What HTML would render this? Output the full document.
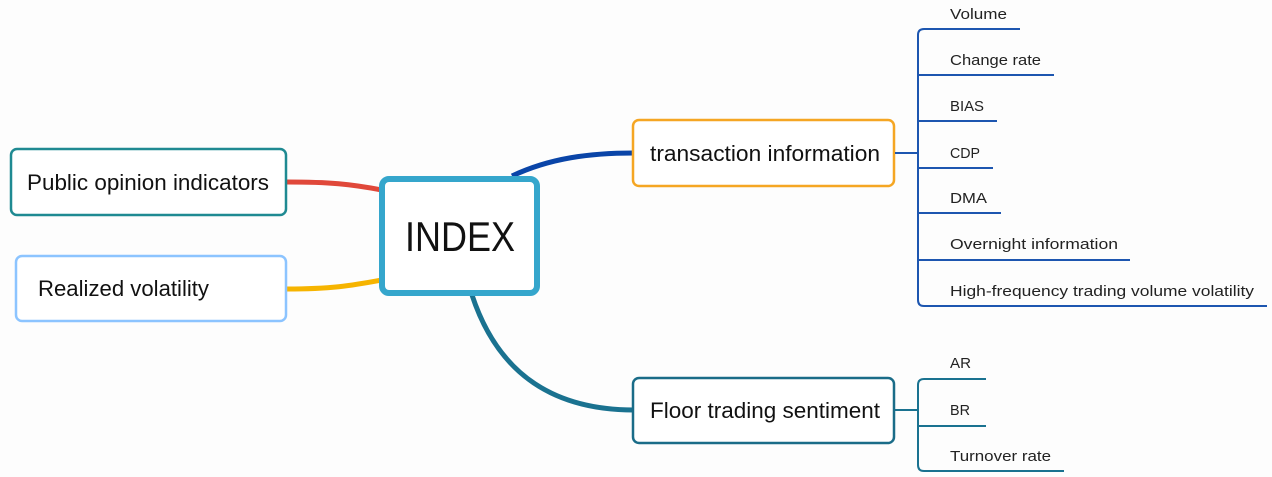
<!DOCTYPE html>
<html><head><meta charset="utf-8"><style>
html,body{margin:0;padding:0;background:#fdfdfd;}
svg{display:block;font-family:"Liberation Sans",sans-serif;}
</style></head><body>
<svg width="1272" height="477" viewBox="0 0 1272 477" xmlns="http://www.w3.org/2000/svg">
<rect width="1272" height="477" fill="#fdfdfd"/>
<path d="M287 182 C330 182 350 184 382 190" stroke="#e0483a" stroke-width="5" fill="none"/>
<path d="M287 289 C330 289 350 286 382 280" stroke="#f6b400" stroke-width="5" fill="none"/>
<path d="M512 176 C550 158 590 153 634 153" stroke="#0a45a8" stroke-width="5" fill="none"/>
<path d="M472 295 C500 380 560 410 634 410" stroke="#1a7290" stroke-width="5" fill="none"/>
<rect x="11" y="149" width="275" height="66" rx="6" fill="#fff" stroke="#1f8a92" stroke-width="2.5"/>
<text x="148" y="190" font-size="22" text-anchor="middle" fill="#111" textLength="242" lengthAdjust="spacingAndGlyphs">Public opinion indicators</text>
<rect x="16" y="256" width="270" height="65" rx="6" fill="#fff" stroke="#8cc4ff" stroke-width="2.5"/>
<text x="38" y="296" font-size="22" fill="#111" textLength="171" lengthAdjust="spacingAndGlyphs">Realized volatility</text>
<rect x="382" y="179" width="155" height="114" rx="7" fill="#fff" stroke="#35a6cc" stroke-width="6"/>
<text x="460" y="251" font-size="42" text-anchor="middle" fill="#111" textLength="110" lengthAdjust="spacingAndGlyphs">INDEX</text>
<rect x="633" y="120" width="261" height="66" rx="6" fill="#fff" stroke="#f5a623" stroke-width="2.5"/>
<text x="650" y="161" font-size="22" fill="#111" textLength="230" lengthAdjust="spacingAndGlyphs">transaction information</text>
<rect x="633" y="378" width="261" height="65" rx="6" fill="#fff" stroke="#1a6c88" stroke-width="2.5"/>
<text x="650" y="418" font-size="22" fill="#111" textLength="230" lengthAdjust="spacingAndGlyphs">Floor trading sentiment</text>
<g stroke="#1d56b0" stroke-width="2" fill="none">
<line x1="895" y1="153" x2="918" y2="153"/>
<path d="M1020 29 H924 Q918 29 918 35 V300 Q918 306 924 306 H1267"/>
<line x1="918" y1="75" x2="1054" y2="75"/>
<line x1="918" y1="121" x2="997" y2="121"/>
<line x1="918" y1="168" x2="993" y2="168"/>
<line x1="918" y1="213" x2="1001" y2="213"/>
<line x1="918" y1="260" x2="1130" y2="260"/>
</g>
<g font-size="15" fill="#222">
<text x="950" y="19" textLength="57" lengthAdjust="spacingAndGlyphs">Volume</text>
<text x="950" y="65" textLength="91" lengthAdjust="spacingAndGlyphs">Change rate</text>
<text x="950" y="111" textLength="34" lengthAdjust="spacingAndGlyphs">BIAS</text>
<text x="950" y="158" textLength="30" lengthAdjust="spacingAndGlyphs">CDP</text>
<text x="950" y="203" textLength="37" lengthAdjust="spacingAndGlyphs">DMA</text>
<text x="950" y="249" textLength="168" lengthAdjust="spacingAndGlyphs">Overnight information</text>
<text x="950" y="296" textLength="304" lengthAdjust="spacingAndGlyphs">High-frequency trading volume volatility</text>
</g>
<g stroke="#1a7290" stroke-width="2" fill="none">
<line x1="895" y1="410" x2="918" y2="410"/>
<path d="M986 379 H924 Q918 379 918 385 V465 Q918 471 924 471 H1064"/>
<line x1="918" y1="426" x2="986" y2="426"/>
</g>
<g font-size="15" fill="#222">
<text x="950" y="368" textLength="21" lengthAdjust="spacingAndGlyphs">AR</text>
<text x="950" y="415" textLength="20" lengthAdjust="spacingAndGlyphs">BR</text>
<text x="950" y="461" textLength="101" lengthAdjust="spacingAndGlyphs">Turnover rate</text>
</g>
</svg>
</body></html>
